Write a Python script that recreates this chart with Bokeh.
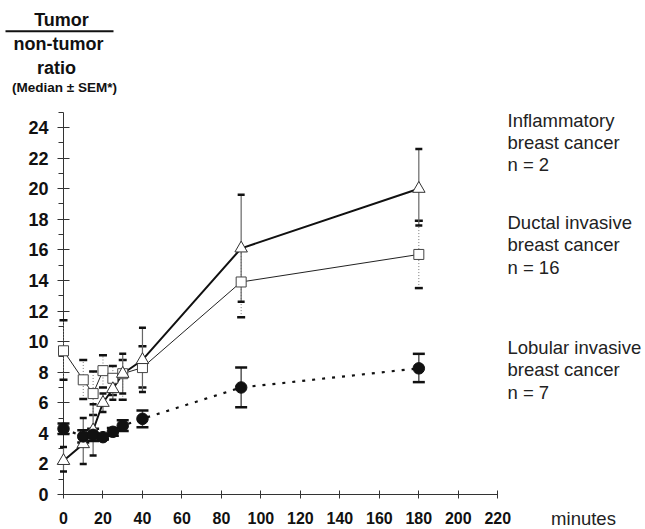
from bokeh.plotting import figure
from bokeh.models import (Range1d, FixedTicker, Whisker, TeeHead, ColumnDataSource,
                          Label, Arrow, LinearAxis)
from bokeh.embed import file_html
from bokeh.resources import INLINE

# ---------------- data ----------------
minutes = [0, 10, 15, 20, 25, 30, 40, 90, 180]

# Inflammatory breast cancer (n = 2) - open triangles
infl_median = [2.2, 3.3, 4.2, 6.0, 6.9, 7.9, 8.8, 16.1, 20.0]
infl_upper = [3.1, 5.0, 5.9, 6.6, 7.6, 9.2, 10.9, 19.6, 22.6]
infl_lower = [1.5, 2.0, 2.55, 5.4, 6.2, 6.6, 6.7, 12.6, 17.6]

# Ductal invasive breast cancer (n = 16) - open squares
duct_median = [9.4, 7.5, 6.6, 8.1, 7.6, 7.9, 8.3, 13.9, 15.7]
duct_upper = [11.4, 8.8, 8.05, 9.1, 8.4, 8.8, 9.7, 16.1, 17.9]
duct_lower = [7.5, 6.25, 5.2, 7.0, 6.5, 6.2, 7.0, 11.6, 13.5]

# Lobular invasive breast cancer (n = 7) - filled circles
lob_median = [4.3, 3.8, 3.9, 3.75, 4.1, 4.5, 4.95, 7.0, 8.25]
lob_upper = [4.65, 4.2, 4.3, 3.9, 4.35, 4.85, 5.5, 8.3, 9.2]
lob_lower = [3.95, 3.4, 3.5, 3.6, 3.85, 4.15, 4.4, 5.7, 7.35]

x_ticks = [0, 20, 40, 60, 80, 100, 120, 140, 160, 180, 200, 220]
y_ticks = [0, 2, 4, 6, 8, 10, 12, 14, 16, 18, 20, 22, 24]
y_minor = [1, 3, 5, 7, 9, 11, 13, 15, 17, 19, 21, 23, 25]

group_texts = [
    ["Inflammatory", "breast cancer", "n = 2"],
    ["Ductal invasive", "breast cancer", "n = 16"],
    ["Lobular invasive", "breast cancer", "n = 7"],
]

# ---------------- layout constants ----------------
W, H = 645, 529
X0_PX, Y0_PX = 63, 494    # pixel position of the origin
PX_X = 1.974              # px per minute
PX_Y = 15.29              # px per ratio unit
X_START = -X0_PX / PX_X
X_END = (W - X0_PX) / PX_X
Y_START = -(H - Y0_PX) / PX_Y
Y_END = Y0_PX / PX_Y


def dx(px):
    return (px - X0_PX) / PX_X


def dy(py):
    return (Y0_PX - py) / PX_Y


FONT = "Liberation Sans"

p = figure(width=W, height=H, output_backend="svg", toolbar_location=None,
           x_range=Range1d(X_START, X_END), y_range=Range1d(Y_START, Y_END),
           x_axis_location=None, y_axis_location=None, min_border=0)
p.grid.visible = False
p.outline_line_color = None
p.background_fill_color = "white"
p.border_fill_color = "white"

# axes placed at the data origin
xa = LinearAxis(fixed_location=0, bounds=(0, 220),
                ticker=FixedTicker(ticks=x_ticks, minor_ticks=[]))
xa.major_tick_in = 4
xa.major_tick_out = 4
xa.axis_line_color = "#333333"
xa.major_tick_line_color = "#333333"
xa.major_label_text_font = FONT
xa.major_label_text_font_style = "bold"
xa.major_label_text_font_size = "16px"
xa.major_label_text_color = "#111111"
xa.major_label_standoff = 13
xa.level = "underlay"
p.add_layout(xa, "below")

ya = LinearAxis(fixed_location=0, bounds=(0, 25),
                ticker=FixedTicker(ticks=y_ticks, minor_ticks=y_minor))
ya.major_tick_in = 6
ya.major_tick_out = 6
ya.minor_tick_in = 0
ya.minor_tick_out = 5
ya.axis_line_color = "#333333"
ya.major_tick_line_color = "#333333"
ya.minor_tick_line_color = "#333333"
ya.major_label_text_font = FONT
ya.major_label_text_font_style = "bold"
ya.major_label_text_font_size = "18px"
ya.major_label_text_color = "#111111"
ya.major_label_standoff = 9
ya.level = "underlay"
p.add_layout(ya, "left")

# sources
src = ColumnDataSource(dict(
    x=minutes,
    infl=infl_median, infl_hi=infl_upper, infl_lo=infl_lower,
    duct=duct_median, duct_hi=duct_upper, duct_lo=duct_lower,
    lob=lob_median, lob_hi=lob_upper, lob_lo=lob_lower,
))


def head(size, width):
    return TeeHead(size=size, line_width=width, line_color="#111111")


# error bars
p.add_layout(Whisker(base="x", upper="duct_hi", lower="duct_lo", source=src,
                     line_color="#777777", line_width=1, line_dash="1 2",
                     upper_head=head(8, 2.5), lower_head=head(8, 2.5),
                     level="underlay"))
p.add_layout(Whisker(base="x", upper="infl_hi", lower="infl_lo", source=src,
                     line_color="#666666", line_width=1.2,
                     upper_head=head(7, 2.5), lower_head=head(7, 2.5),
                     level="underlay"))
p.add_layout(Whisker(base="x", upper="lob_hi", lower="lob_lo", source=src,
                     line_color="#555555", line_width=1.5,
                     upper_head=head(12, 2.5), lower_head=head(12, 2.5),
                     level="underlay"))

# lines
p.line("x", "lob", source=src, line_color="#111111", line_width=2.2, line_dash="3 7")
p.line("x", "duct", source=src, line_color="#222222", line_width=1)
p.line("x", "infl", source=src, line_color="#111111", line_width=2)

# markers
p.scatter("x", "duct", source=src, marker="square", size=10,
          fill_color="white", line_color="#444444", line_width=1)
p.scatter("x", "infl", source=src, marker="triangle", size=12.5,
          fill_color="white", line_color="#333333", line_width=1)
p.scatter("x", "lob", source=src, marker="circle", size=11.5,
          fill_color="#111111", line_color="#111111")

# title block (top-left)
title_items = [
    ("Tumor", 61, 19, "18px"),
    ("non-tumor", 58, 43, "18px"),
    ("ratio", 56, 67, "18px"),
    ("(Median \u00b1 SEM*)", 64, 87, "13.5px"),
]
for txt, px, py, fs in title_items:
    p.add_layout(Label(x=dx(px), y=dy(py), text=txt, text_align="center",
                       text_baseline="middle", text_font=FONT,
                       text_font_style="bold", text_font_size=fs,
                       text_color="#111111"))
p.add_layout(Arrow(x_start=dx(5), y_start=dy(30.7), x_end=dx(113), y_end=dy(30.7),
                   start=None, end=None, line_width=2, line_color="#111111"))

# group texts (right)
group_rows = [[120, 142, 164], [222, 244, 267], [347, 369, 392]]
for lines, rows in zip(group_texts, group_rows):
    for txt, py in zip(lines, rows):
        p.add_layout(Label(x=dx(507), y=dy(py), text=txt, text_align="left",
                           text_baseline="middle", text_font=FONT,
                           text_font_size="18.5px", text_color="#222222"))

p.add_layout(Label(x=dx(583), y=dy(518), text="minutes", text_align="center",
                   text_baseline="middle", text_font=FONT,
                   text_font_size="18.5px", text_color="#222222"))

open("out.html", "w").write(file_html(p, INLINE))
